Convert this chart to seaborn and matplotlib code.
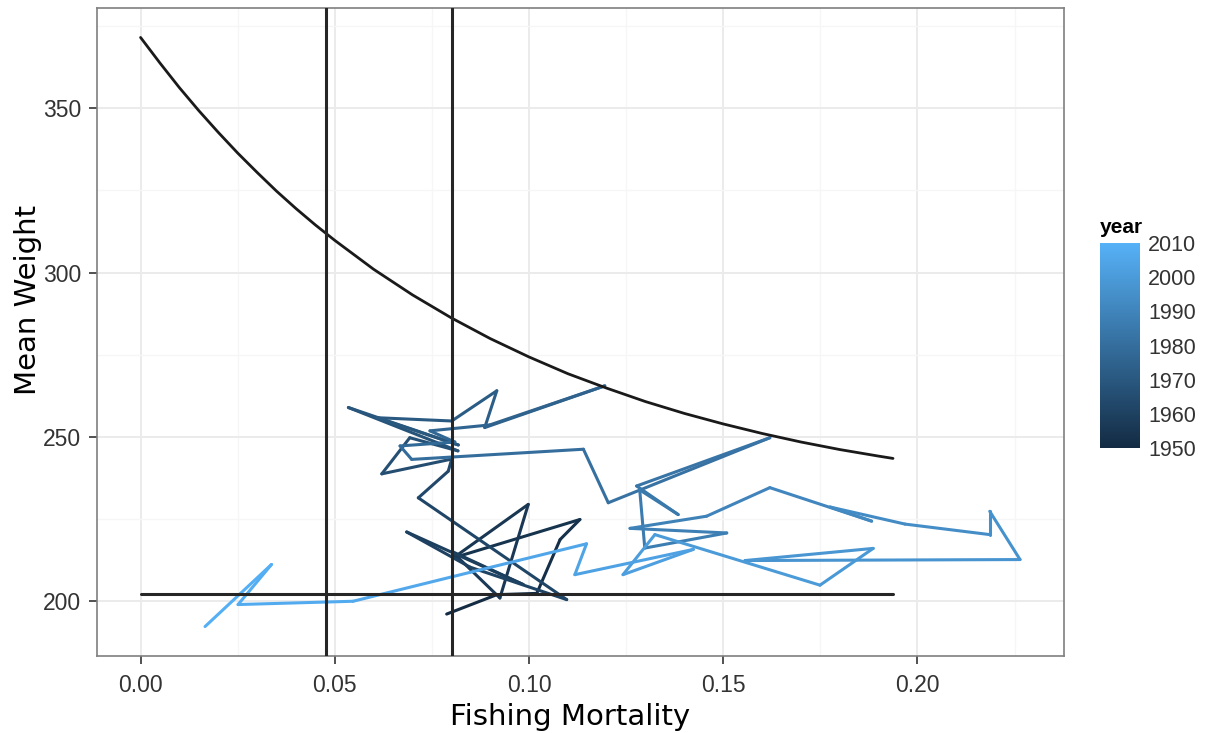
import numpy as np
import pandas as pd
import matplotlib
matplotlib.use("Agg")
import matplotlib.pyplot as plt
import seaborn as sns
from matplotlib.colors import LinearSegmentedColormap, Normalize
from matplotlib.cm import ScalarMappable

# ---------------- data ----------------
years = list(range(1950, 2011))
fishing_mortality = [
    0.0788, 0.0917, 0.1020, 0.1080, 0.1131, 0.0805, 0.0998, 0.0925, 0.0801, 0.0985,
    0.0685, 0.0848, 0.1097, 0.0715, 0.0792, 0.0801, 0.0621, 0.0693, 0.0817, 0.0535,
    0.0818, 0.0608, 0.0801, 0.0917, 0.0886, 0.1195, 0.0899, 0.0745, 0.0809, 0.0668,
    0.0698, 0.1140, 0.1204, 0.1620, 0.1277, 0.1384, 0.1285, 0.1298, 0.1509, 0.1260,
    0.1457, 0.1620, 0.1882, 0.1775, 0.1968, 0.2186, 0.2186, 0.2264, 0.1556, 0.1886,
    0.1749, 0.1324, 0.1242, 0.1423, 0.1118, 0.1148, 0.0848, 0.0547, 0.0251, 0.0337,
    0.0166,
]
mean_weight = [
    196.0, 201.9, 202.3, 218.7, 224.8, 213.1, 229.4, 200.9, 215.1, 205.0,
    221.0, 210.3, 200.4, 231.4, 239.5, 243.2, 238.7, 249.7, 245.7, 258.9,
    247.5, 255.8, 254.8, 264.0, 252.8, 265.5, 253.6, 251.8, 248.4, 247.2,
    243.1, 246.2, 229.9, 249.7, 235.0, 226.3, 233.8, 216.1, 220.7, 222.1,
    225.8, 234.5, 224.3, 228.6, 223.4, 220.2, 227.3, 212.6, 212.3, 216.0,
    204.8, 220.2, 208.0, 215.7, 208.0, 217.4, 208.7, 199.9, 198.9, 211.1,
    192.2,
]

curve_f = [0.000, 0.005, 0.010, 0.015, 0.020, 0.025, 0.030, 0.035, 0.040, 0.045,
           0.050, 0.060, 0.070, 0.080, 0.090, 0.100, 0.110, 0.120, 0.130, 0.140,
           0.150, 0.160, 0.170, 0.180, 0.190, 0.1937]
curve_w = [371.6, 363.8, 356.3, 349.3, 342.7, 336.4, 330.5, 324.8, 319.5, 314.5,
           309.8, 301.0, 293.2, 286.2, 279.9, 274.3, 269.2, 264.8, 260.7, 257.1,
           253.9, 251.0, 248.4, 246.1, 244.1, 243.4]

ref_f_lines = [0.0477, 0.0801]
ref_w_f = [0.0, 0.1937]
ref_w = [202.1, 202.1]

x_ticks = [0.00, 0.05, 0.10, 0.15, 0.20]
x_tick_labels = ["0.00", "0.05", "0.10", "0.15", "0.20"]
y_ticks = [200, 250, 300, 350]
year_ticks = [1950, 1960, 1970, 1980, 1990, 2000, 2010]

# ---------------- styling ----------------
sns.set_theme(style="white")
plt.rcParams["font.family"] = ["Liberation Sans", "DejaVu Sans"]

cmap = LinearSegmentedColormap.from_list("gg", ["#132B43", "#56B1F7"])
norm = Normalize(vmin=min(years), vmax=max(years))

W, H = 1211, 733
fig = plt.figure(figsize=(W / 100, H / 100), dpi=100)
fig.patch.set_facecolor("white")
ax = fig.add_axes([96.6 / W, 1 - 656 / H, (1064 - 96.6) / W, (656 - 8) / H])

# path: one segment per year, coloured by the starting year
rows = []
for i in range(len(years) - 1):
    for j in (i, i + 1):
        rows.append({"seg": i, "year": years[i],
                     "F": fishing_mortality[j], "W": mean_weight[j]})
path_df = pd.DataFrame(rows)
sns.lineplot(data=path_df, x="F", y="W", hue="year", units="seg", estimator=None,
             sort=False, palette=cmap, hue_norm=norm, legend=False,
             linewidth=2.2, solid_capstyle="round", ax=ax, zorder=3)

curve_df = pd.DataFrame({"F": curve_f, "W": curve_w})
sns.lineplot(data=curve_df, x="F", y="W", color="#1a1a1a", linewidth=2.0,
             sort=False, estimator=None, ax=ax, zorder=4)

href_df = pd.DataFrame({"F": ref_w_f, "W": ref_w})
sns.lineplot(data=href_df, x="F", y="W", color="#262626", linewidth=2.2,
             estimator=None, ax=ax, zorder=4)
for fv in ref_f_lines:
    ax.axvline(fv, color="#262626", linewidth=2.2, zorder=4)

# limits with ggplot-like 5% expansion
all_f = fishing_mortality + curve_f
all_w = mean_weight + curve_w
fr = max(all_f) - min(all_f)
wr = max(all_w) - min(all_w)
ax.set_xlim(min(all_f) - 0.05 * fr, max(all_f) + 0.05 * fr)
ax.set_ylim(min(all_w) - 0.05 * wr, max(all_w) + 0.05 * wr)

ax.set_xticks(x_ticks)
ax.set_xticklabels(x_tick_labels)
ax.set_yticks(y_ticks)
ax.set_xticks([0.025, 0.075, 0.125, 0.175, 0.225], minor=True)
ax.set_yticks([225, 275, 325, 375], minor=True)
ax.grid(which="major", color="#EBEBEB", linewidth=1.4, zorder=0)
ax.grid(which="minor", color="#F6F6F6", linewidth=1.0, zorder=0)
ax.set_axisbelow(True)
for s in ax.spines.values():
    s.set_color("#7F7F7F")
    s.set_linewidth(1.2)
ax.tick_params(which="major", direction="out", length=6, width=1.2,
               color="#333333", labelsize=16.5, labelcolor="#333333",
               bottom=True, left=True)
ax.tick_params(axis="x", which="major", pad=7)
ax.tick_params(axis="y", which="major", pad=5)
ax.tick_params(which="minor", length=0)
ax.set_xlabel("")
ax.set_ylabel("")

# axis titles
fig.text(570 / W, 1 - 725 / H, "Fishing Mortality", fontsize=21,
         family="DejaVu Sans", ha="center", va="baseline", color="black")
fig.text(28 / W, 1 - 300 / H, "Mean Weight", fontsize=21, rotation=90,
         family="DejaVu Sans", ha="center", va="center", color="black")

# colour bar legend
cax = fig.add_axes([1100 / W, 1 - 448 / H, 40 / W, 205 / H])
sm = ScalarMappable(norm=norm, cmap=cmap)
cb = fig.colorbar(sm, cax=cax, ticks=year_ticks)
cb.outline.set_visible(False)
cax.yaxis.set_ticks_position("both")
cax.tick_params(which="both", direction="in", length=7, width=1.0,
                color="white", labelsize=15.5, labelcolor="#333333", pad=6)
cax.minorticks_off()
fig.text(1100 / W, 1 - 228 / H, "year", fontsize=15, fontweight="bold",
         ha="left", va="center", color="black")

fig.savefig("out.png", dpi=100, facecolor="white")
